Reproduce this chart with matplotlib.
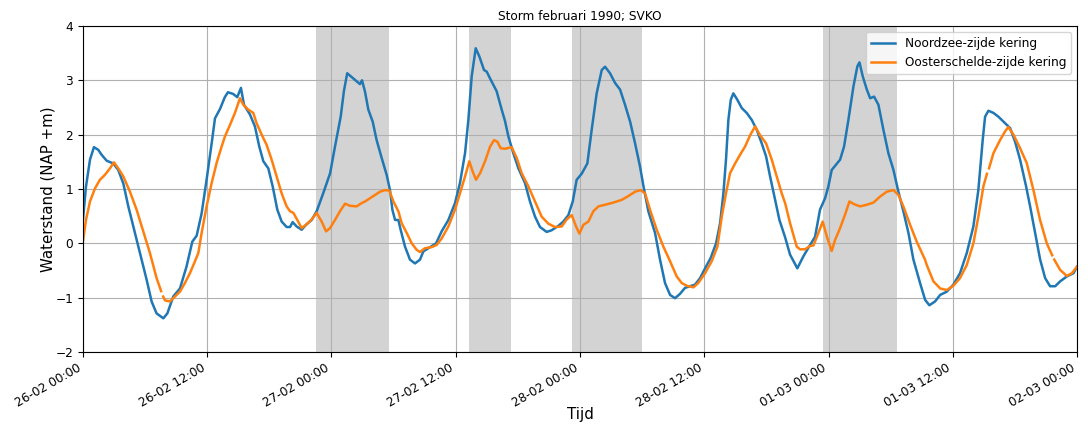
import numpy as np
import pandas as pd
import matplotlib
matplotlib.use("Agg")
import matplotlib.pyplot as plt
import matplotlib.dates as mdates

start = pd.Timestamp("1990-02-26 00:00")
end = pd.Timestamp("1990-03-02 00:00")

# Noordzee-zijde kering: hours since start, waterlevel (NAP +m)
nz_hours = [0.0, 0.29, 0.68, 1.06, 1.48, 1.8, 2.29, 2.93, 3.41, 3.9, 4.38, 5.02, 5.67, 6.15, 6.63,
            7.11, 7.76, 8.15, 8.72, 9.37, 10.0, 10.56, 10.98, 11.46, 11.94, 12.43, 12.75, 13.23,
            13.7, 14.0, 14.5, 14.9, 15.26, 15.55, 16.13, 16.61, 17.03, 17.42, 17.9, 18.32, 18.77,
            19.19, 19.67, 20.0, 20.25, 20.64, 21.12, 21.54, 22.09, 22.57, 23.2, 23.87, 24.34,
            24.89, 25.2, 25.52, 25.95, 26.43, 26.75, 26.95, 27.24, 27.56, 27.98, 28.36, 28.85,
            29.33, 29.65, 29.88, 30.14, 30.46, 30.68, 31.1, 31.58, 32.07, 32.55, 32.87, 33.52,
            34.1, 34.64, 35.29, 35.93, 36.41, 36.9, 37.22, 37.54, 37.93, 38.28, 38.73, 38.99,
            39.38, 39.95, 40.44, 40.76, 41.08, 41.56, 42.05, 42.69, 43.17, 43.66, 44.14, 44.78,
            45.26, 45.9, 46.39, 46.88, 47.3, 47.68, 48.16, 48.71, 49.13, 49.61, 50.1, 50.42,
            50.9, 51.39, 51.87, 52.35, 52.84, 53.32, 53.8, 54.13, 54.6, 55.25, 55.73, 56.21,
            56.7, 57.18, 57.66, 58.14, 58.63, 59.11, 59.6, 60.08, 60.62, 61.14, 61.53, 61.85,
            62.1, 62.33, 62.56, 62.81, 63.2, 63.62, 64.1, 64.59, 65.07, 65.55, 65.97, 66.36,
            66.84, 67.26, 67.81, 68.29, 68.99, 69.57, 70.22, 70.7, 71.18, 71.67, 71.99, 72.31,
            72.73, 73.12, 73.5, 73.92, 74.41, 74.79, 74.99, 75.31, 75.7, 76.02, 76.4, 76.82,
            77.3, 77.78, 78.27, 78.75, 79.23, 79.72, 80.2, 80.84, 81.33, 81.74, 82.29, 82.78,
            83.42, 84.06, 84.7, 85.35, 85.99, 86.47, 86.89, 87.12, 87.44, 87.93, 88.41, 88.89,
            89.54, 90.02, 90.5, 91.08, 91.47, 91.95, 92.44, 92.92, 93.4, 93.89, 94.37, 95.01,
            95.66, 96.0]
nz_level = [0.43, 1.04, 1.54, 1.77, 1.72, 1.63, 1.52, 1.47, 1.35, 1.1, 0.68, 0.19, -0.30, -0.67,
            -1.07, -1.29, -1.38, -1.29, -0.98, -0.83, -0.43, 0.03, 0.14, 0.55, 1.17, 1.84, 2.30,
            2.47, 2.69, 2.78, 2.75, 2.69, 2.86, 2.55, 2.37, 2.15, 1.78, 1.51, 1.38, 1.05, 0.62,
            0.40, 0.30, 0.30, 0.39, 0.31, 0.25, 0.34, 0.43, 0.59, 0.92, 1.29, 1.78, 2.33, 2.80,
            3.13, 3.06, 2.98, 2.93, 3.0, 2.79, 2.46, 2.24, 1.90, 1.57, 1.26, 0.98, 0.62, 0.43,
            0.43, 0.25, -0.06, -0.30, -0.37, -0.30, -0.15, -0.07, 0.0, 0.22, 0.43, 0.74, 1.11,
            1.66, 2.27, 3.07, 3.59, 3.44, 3.19, 3.16, 3.01, 2.80, 2.46, 2.25, 1.97, 1.66, 1.38,
            1.11, 0.77, 0.49, 0.30, 0.21, 0.24, 0.32, 0.40, 0.52, 0.77, 1.17, 1.28, 1.47, 2.09,
            2.76, 3.19, 3.25, 3.13, 2.95, 2.83, 2.55, 2.24, 1.84, 1.41, 1.05, 0.59, 0.19, -0.30,
            -0.73, -0.95, -1.01, -0.93, -0.82, -0.79, -0.76, -0.64, -0.46, -0.27, 0.0, 0.37,
            0.92, 1.54, 2.27, 2.64, 2.76, 2.64, 2.49, 2.40, 2.27, 2.09, 1.84, 1.60, 1.23, 0.80,
            0.43, 0.11, -0.21, -0.46, -0.24, -0.03, 0.12, 0.62, 0.83, 1.05, 1.35, 1.45, 1.54,
            1.78, 2.27, 2.89, 3.26, 3.33, 3.07, 2.83, 2.67, 2.70, 2.55, 2.09, 1.66, 1.35, 0.95,
            0.59, 0.19, -0.30, -0.73, -1.04, -1.14, -1.07, -0.95, -0.89, -0.76, -0.55, -0.18,
            0.31, 0.98, 1.90, 2.33, 2.44, 2.40, 2.33, 2.24, 2.12, 1.87, 1.54, 1.05, 0.68, 0.19,
            -0.30, -0.64, -0.79, -0.79, -0.70, -0.61, -0.55, -0.43]

# Oosterschelde-zijde kering (NaN = missing measurement)
os_hours = [0.0, 0.29, 0.68, 1.16, 1.64, 2.12, 2.61, 2.99, 3.41, 3.9, 4.54, 5.18, 5.83, 6.47, 7.11,
            7.55, 7.65, 7.75, 7.92, 8.4, 8.89, 9.37, 9.85, 10.33, 10.82, 11.14, 11.46, 11.94,
            12.43, 12.91, 13.39, 13.72, 14.2, 14.68, 15.16, 15.49, 15.97, 16.45, 16.77, 17.26,
            17.74, 18.22, 18.71, 19.19, 19.67, 20.0, 20.32, 20.7, 21.12, 21.54, 22.09, 22.57,
            23.05, 23.48, 23.86, 24.34, 24.82, 25.31, 25.79, 26.43, 26.91, 27.24, 27.72, 28.2,
            28.69, 29.17, 29.59, 29.98, 30.46, 30.78, 31.27, 31.75, 32.23, 32.55, 33.03, 33.68,
            34.16, 34.64, 35.29, 35.93, 36.41, 36.9, 37.31, 37.64, 37.96, 38.35, 38.83, 39.32,
            39.7, 40.02, 40.34, 40.76, 41.4, 41.89, 42.37, 43.01, 43.66, 44.3, 44.95, 45.59,
            46.24, 46.72, 47.2, 47.62, 47.94, 48.33, 48.81, 49.29, 49.78, 50.42, 51.22, 52.03,
            52.67, 53.32, 53.86, 54.28, 54.76, 55.41, 56.05, 56.7, 57.34, 57.82, 58.3, 58.95,
            59.43, 60.08, 60.72, 61.27, 61.69, 62.1, 62.49, 62.98, 63.46, 63.94, 64.43, 64.91,
            65.39, 65.97, 66.52, 67.0, 67.48, 67.81, 68.29, 68.93, 69.25, 69.73, 70.22, 70.54,
            71.02, 71.44, 71.83, 72.31, 72.63, 73.12, 73.6, 74.02, 74.47, 75.05, 75.7, 76.34,
            76.98, 77.62, 78.27, 78.75, 79.23, 79.88, 80.52, 81.32, 81.49, 82.13, 82.78, 83.42,
            84.06, 84.7, 85.35, 85.99, 86.47, 86.96, 87.3, 87.4, 87.5, 87.93, 88.57, 89.05,
            89.37, 89.86, 90.5, 91.14, 91.79, 92.43, 93.08, 93.6, 93.7, 93.8, 94.37, 95.01,
            95.5, 96.0]
os_level = [0.03, 0.43, 0.77, 1.01, 1.17, 1.26, 1.38, 1.49, 1.38, 1.23, 0.95, 0.62, 0.22, -0.18,
            -0.64, -0.88, np.nan, -0.98, -1.05, -1.07, -0.98, -0.89, -0.73, -0.55, -0.33, -0.18,
            0.19, 0.68, 1.11, 1.48, 1.78, 1.97, 2.18, 2.40, 2.67, 2.55, 2.46, 2.40, 2.21, 2.0,
            1.81, 1.54, 1.23, 0.92, 0.68, 0.59, 0.56, 0.43, 0.28, 0.34, 0.44, 0.56, 0.40, 0.22,
            0.28, 0.43, 0.59, 0.73, 0.69, 0.68, 0.74, 0.77, 0.83, 0.89, 0.95, 0.98, 0.97, 0.77,
            0.59, 0.37, 0.19, 0.0, -0.12, -0.16, -0.09, -0.07, -0.03, 0.09, 0.31, 0.62, 0.92,
            1.23, 1.51, 1.32, 1.17, 1.29, 1.51, 1.78, 1.90, 1.87, 1.75, 1.74, 1.77, 1.57, 1.29,
            1.05, 0.77, 0.49, 0.36, 0.30, 0.31, 0.44, 0.52, 0.31, 0.18, 0.34, 0.40, 0.59, 0.68,
            0.71, 0.75, 0.80, 0.87, 0.95, 0.98, 0.92, 0.62, 0.25, -0.06, -0.33, -0.61, -0.73,
            -0.78, -0.81, -0.73, -0.55, -0.33, -0.06, 0.49, 0.92, 1.29, 1.47, 1.63, 1.78, 1.99,
            2.15, 1.99, 1.84, 1.54, 1.23, 0.92, 0.74, 0.37, -0.06, -0.11, -0.11, -0.05, -0.04,
            0.19, 0.40, 0.13, -0.14, 0.06, 0.28, 0.53, 0.77, 0.72, 0.68, 0.71, 0.75, 0.86, 0.95,
            0.98, 0.89, 0.68, 0.34, 0.03, -0.30, -0.40, -0.70, -0.83, -0.86, -0.78, -0.64, -0.40,
            0.0, 0.49, 1.05, 1.28, np.nan, 1.38, 1.66, 1.90, 2.06, 2.14, 2.0, 1.75, 1.48, 0.98,
            0.43, 0.0, -0.22, np.nan, -0.30, -0.49, -0.60, -0.55, -0.43]

# Storm surge barrier closures (start hour, end hour)
closure_start = [22.5, 37.3, 47.25, 71.5]
closure_end = [29.55, 41.35, 54.0, 78.6]

def to_time(hours):
    return start + pd.to_timedelta(np.asarray(hours, dtype=float), unit="h")

fig = plt.figure(figsize=(10.9, 4.36), dpi=100)
ax = fig.add_axes([0.0761, 0.1927, 0.912, 0.7477])

for s, e in zip(closure_start, closure_end):
    ax.axvspan(start + pd.Timedelta(hours=s), start + pd.Timedelta(hours=e),
               color="lightgrey", lw=0)

ax.plot(to_time(nz_hours), nz_level, color="tab:blue", lw=1.8, label="Noordzee-zijde kering")
ax.plot(to_time(os_hours), os_level, color="tab:orange", lw=1.8, label="Oosterschelde-zijde kering")

ax.set_xlim(start, end)
ax.set_ylim(-2, 4)
ax.xaxis.set_major_locator(mdates.HourLocator(byhour=[0, 12]))
ax.xaxis.set_major_formatter(mdates.DateFormatter("%d-%m %H:%M"))
ax.grid(True)
for lbl in ax.get_xticklabels():
    lbl.set_rotation(30)
    lbl.set_ha("right")
ax.tick_params(labelsize=8.75)
ax.set_xlabel("Tijd", fontsize=10.8, labelpad=-2)
ax.set_ylabel("Waterstand (NAP +m)", fontsize=10.8, labelpad=0)
ax.set_title("Storm februari 1990; SVKO", fontsize=8.75, pad=4)
ax.legend(loc="upper right", fontsize=8.75)

fig.savefig("out.png", dpi=100)
